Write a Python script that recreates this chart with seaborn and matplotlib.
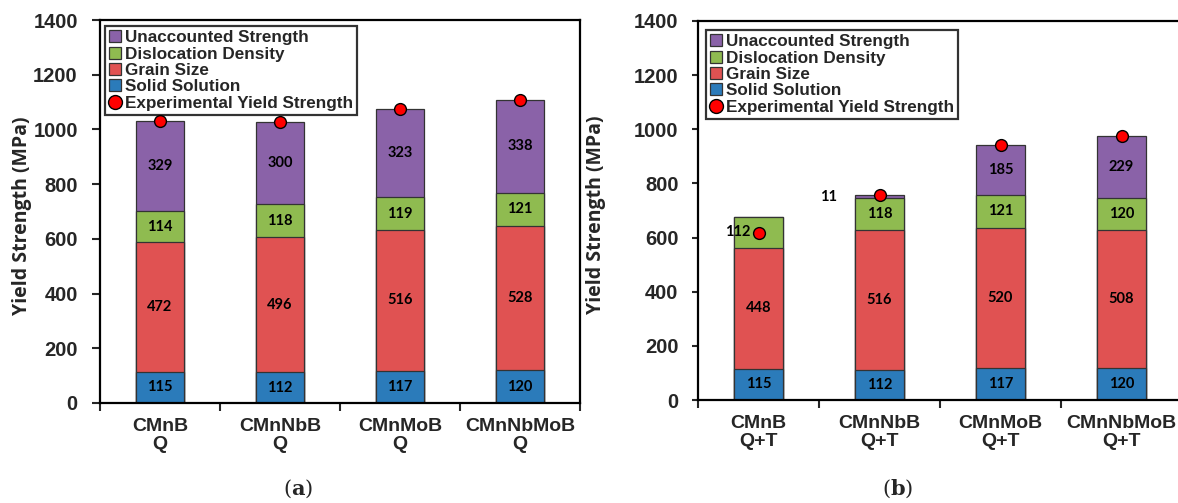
import matplotlib
matplotlib.use("Agg")
import matplotlib.pyplot as plt
import seaborn as sns
import numpy as np
import pandas as pd
from matplotlib.lines import Line2D

# ---------------- data ----------------
cats_a = ["CMnB\nQ", "CMnNbB\nQ", "CMnMoB\nQ", "CMnNbMoB\nQ"]
cats_b = ["CMnB\nQ+T", "CMnNbB\nQ+T", "CMnMoB\nQ+T", "CMnNbMoB\nQ+T"]
components = ["Solid Solution", "Grain Size", "Dislocation Density", "Unaccounted Strength"]

solid_a = [115, 112, 117, 120]
grain_a = [472, 496, 516, 528]
disloc_a = [114, 118, 119, 121]
unacc_a = [329, 300, 323, 338]
exp_a = [1030, 1026, 1075, 1107]

solid_b = [115, 112, 117, 120]
grain_b = [448, 516, 520, 508]
disloc_b = [112, 118, 121, 120]
unacc_b = [0, 11, 185, 229]
exp_b = [618, 757, 943, 977]

y_ticks = [0, 200, 400, 600, 800, 1000, 1200, 1400]
colors = ["#2b7bba", "#e05252", "#8fbb50", "#8a62a8"]

# ---------------- style ----------------
sns.set_style("ticks")
plt.rcParams["font.family"] = ["Liberation Sans", "DejaVu Sans"]
plt.rcParams["mathtext.fontset"] = "dejavuserif"

W, H = 1178, 503
fig = plt.figure(figsize=(W / 100, H / 100), dpi=100)
ax_a = fig.add_axes([100 / W, 100 / H, 480 / W, 383 / H])
ax_b = fig.add_axes([698 / W, 103 / H, 484 / W, 379 / H])


def panel(ax, cats, layers, exp, offsets, legend_xy, ylab_x, tick_len):
    vals = np.array(layers, dtype=float)
    cum = np.cumsum(vals, axis=0)
    for i in range(len(layers) - 1, -1, -1):
        df = pd.DataFrame({"cat": cats, "val": cum[i]})
        sns.barplot(data=df, x="cat", y="val", order=cats, color=colors[i],
                    saturation=1, width=0.4, edgecolor="#333333", linewidth=0.9,
                    errorbar=None, ax=ax, zorder=2)
    dfe = pd.DataFrame({"cat": cats, "val": exp})
    sns.stripplot(data=dfe, x="cat", y="val", order=cats, jitter=False,
                  color="#ff0000", edgecolor="black", linewidth=1.0, size=8.5,
                  ax=ax, zorder=5)
    for i in range(len(layers)):
        for j in range(len(cats)):
            v = vals[i, j]
            if v <= 0:
                continue
            dx = offsets.get((i, j), 0.0)
            ax.text(j + dx, cum[i, j] - v / 2, f"{int(v)}", ha="center", va="center",
                    fontsize=10.5, fontweight="bold", family="Lato", color="black",
                    zorder=6)
    ax.set_xlim(-0.5, 3.5)
    ax.set_ylim(0, 1400)
    ax.set_yticks(y_ticks)
    ax.set_yticklabels([str(t) for t in y_ticks], fontsize=14.5, fontweight="bold")
    ax.set_xticks([-0.5, 0.5, 1.5, 2.5, 3.5])
    ax.set_xticklabels([])
    ax.set_xticks(range(len(cats)), minor=True)
    ax.set_xticklabels(cats, minor=True, fontsize=14, fontweight="bold",
                       linespacing=1.05)
    ax.tick_params(axis="x", which="major", length=6, width=1.5, direction="out")
    ax.tick_params(axis="x", which="minor", length=0, pad=11)
    ax.tick_params(axis="y", which="major", length=tick_len, width=1.5,
                   direction="out", pad=10)
    ax.set_xlabel("")
    ax.set_ylabel("Yield Strength (MPa)", fontsize=14, fontweight="bold",
                  family="Open Sans")
    ax.yaxis.set_label_coords(ylab_x, 0.49)
    for s in ax.spines.values():
        s.set_linewidth(1.6)
        s.set_color("black")
        s.set_visible(True)

    handles = [Line2D([0], [0], marker="s", linestyle="none", markersize=8,
                      markerfacecolor=colors[i], markeredgecolor="#333333",
                      markeredgewidth=0.9) for i in range(3, -1, -1)]
    handles.append(Line2D([0], [0], marker="o", linestyle="none", markersize=10,
                          markerfacecolor="#ff0000", markeredgecolor="black",
                          markeredgewidth=1.0))
    labels = [components[i] for i in range(3, -1, -1)] + ["Experimental Yield Strength"]
    leg = ax.legend(handles, labels, loc="upper left",
                    bbox_to_anchor=(legend_xy[0] / W, 1 - legend_xy[1] / H),
                    bbox_transform=fig.transFigure, borderaxespad=0,
                    frameon=True, fancybox=False, edgecolor="black",
                    handlelength=0.7, handletextpad=0.2, borderpad=0.25,
                    labelspacing=0.08, prop={"size": 12.3, "weight": "bold"})
    leg.get_frame().set_linewidth(1.6)
    leg.set_zorder(10)


panel(ax_a, cats_a, [solid_a, grain_a, disloc_a, unacc_a], exp_a, {},
      (105, 26), -0.142, 6)
panel(ax_b, cats_b, [solid_b, grain_b, disloc_b, unacc_b], exp_b,
      {(2, 0): -0.17, (3, 1): -0.42}, (706, 30), -0.19, 4)

fig.text(298 / W, 1 - 489 / H, r"($\mathbf{a}$)", ha="center", va="center",
         fontsize=15, family="DejaVu Serif")
fig.text(898 / W, 1 - 489 / H, r"($\mathbf{b}$)", ha="center", va="center",
         fontsize=15, family="DejaVu Serif")

fig.savefig("out.png", dpi=100)
